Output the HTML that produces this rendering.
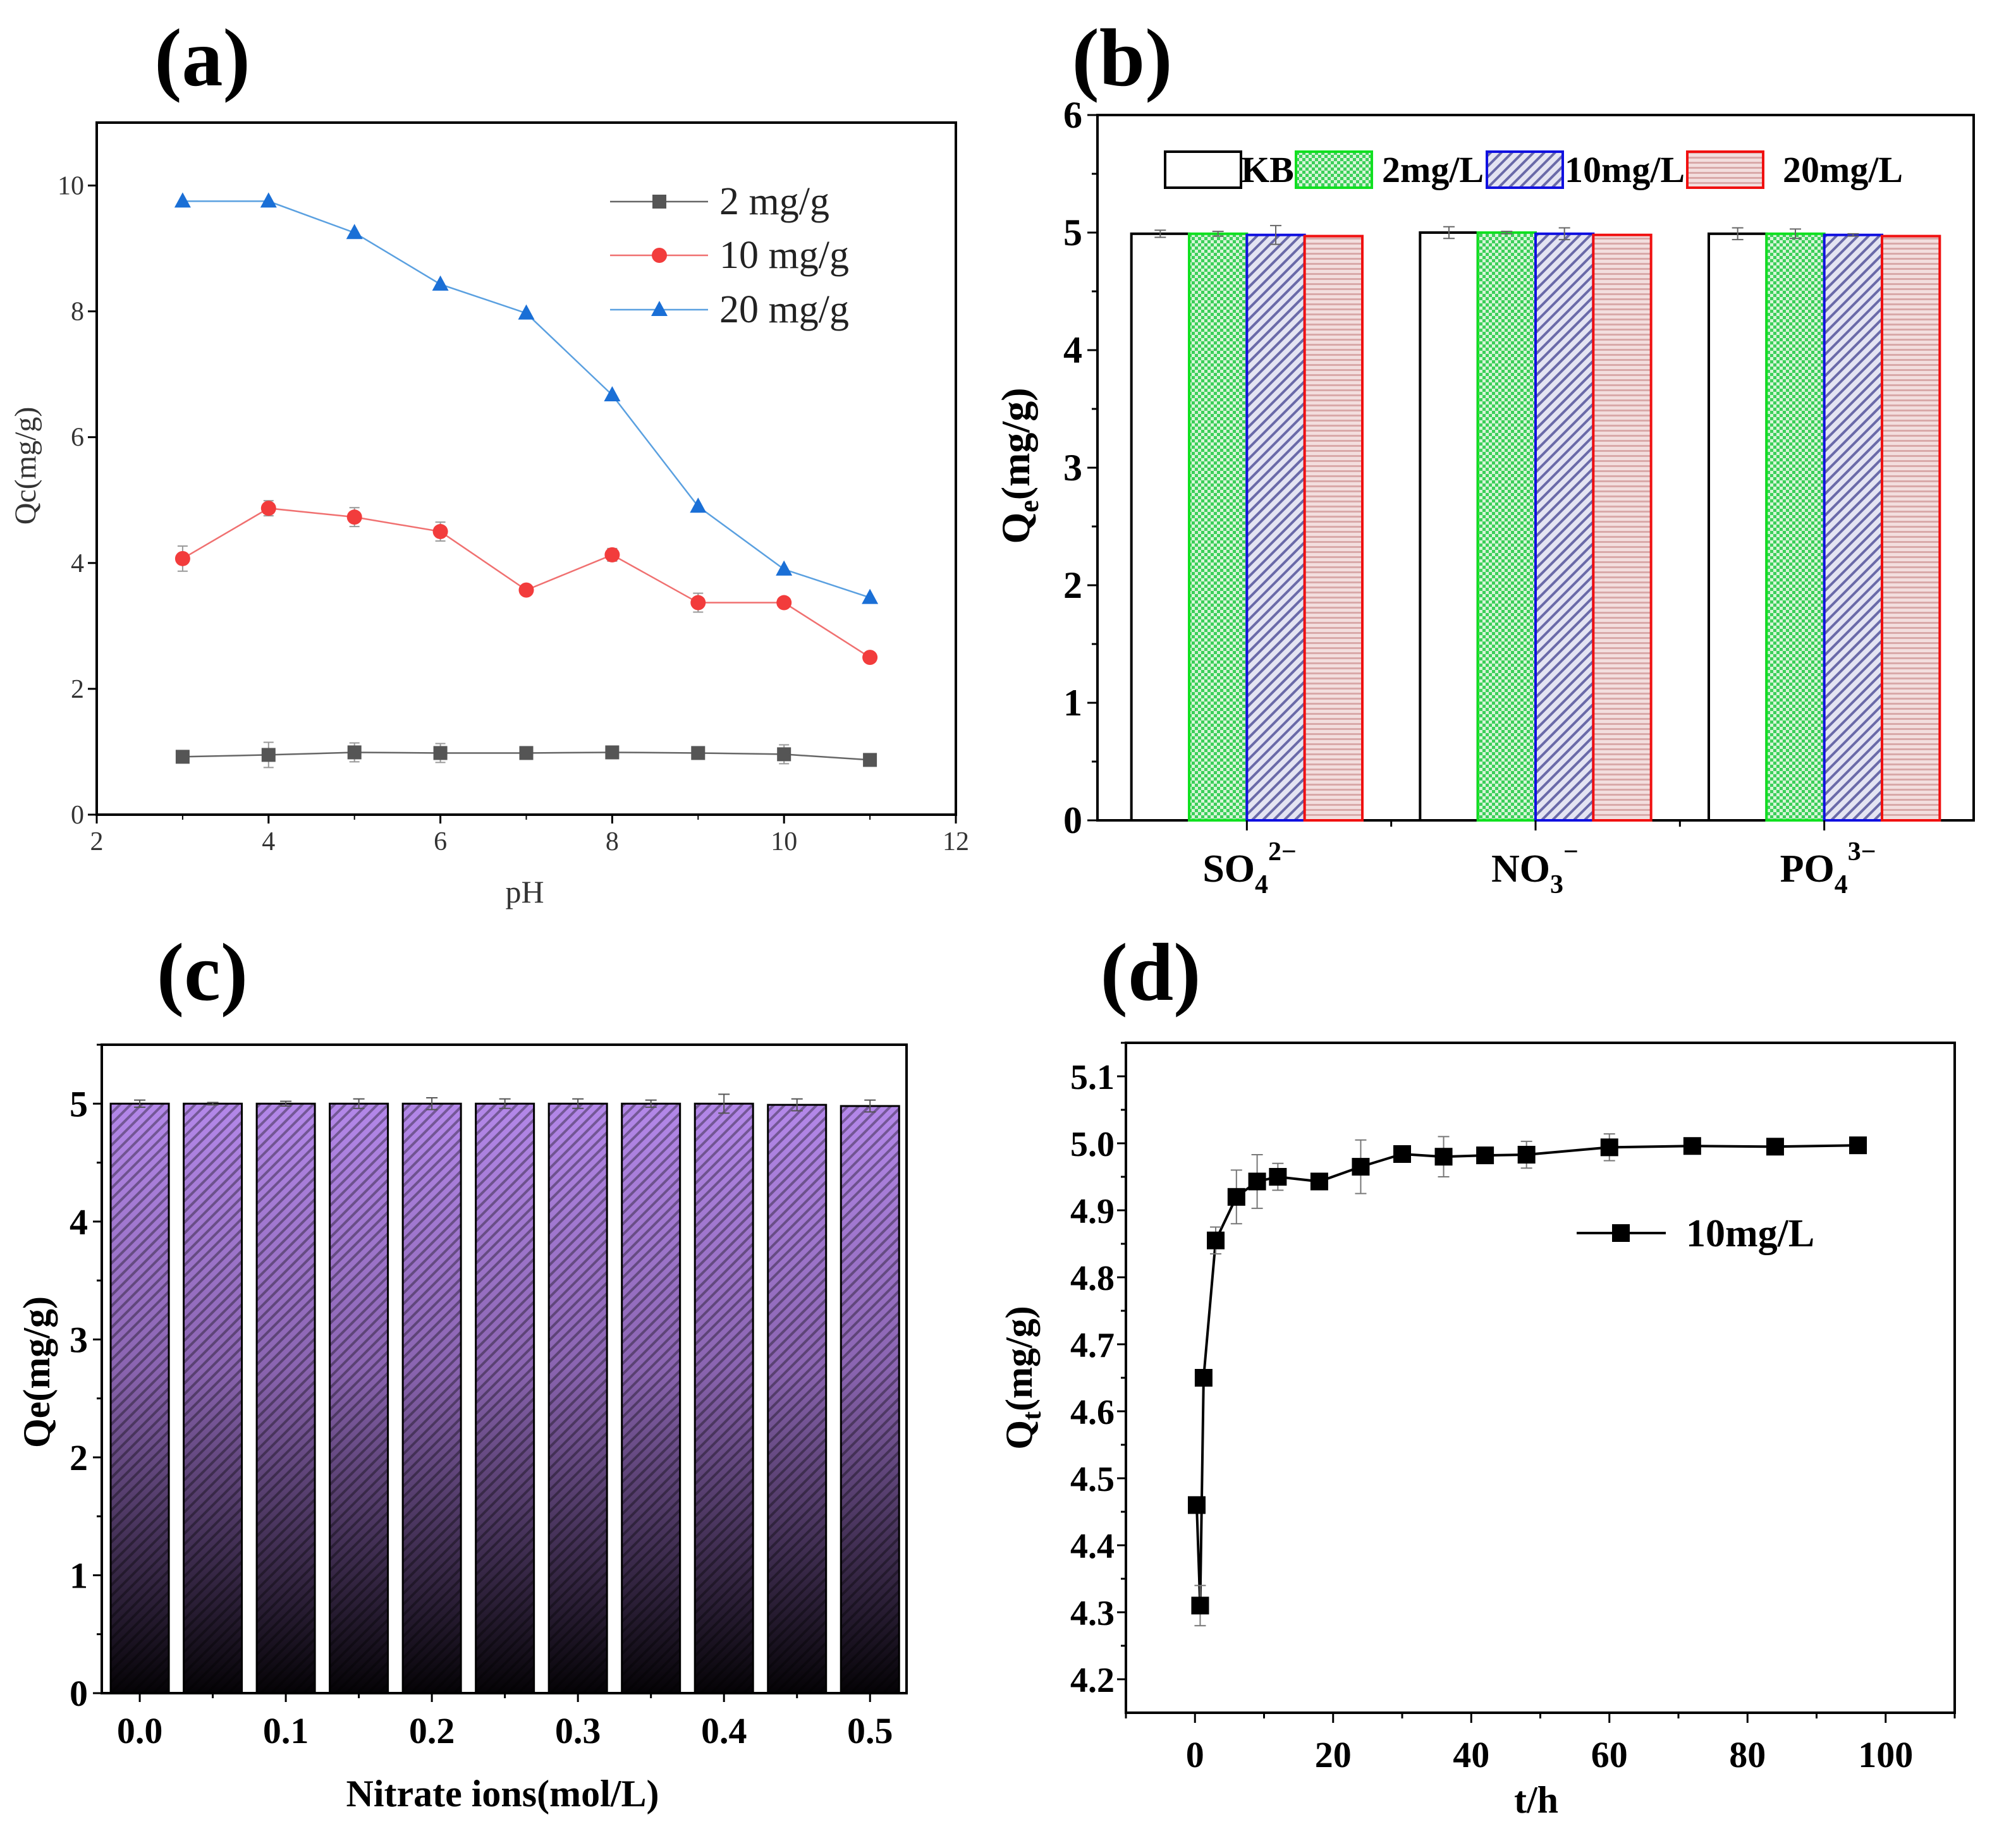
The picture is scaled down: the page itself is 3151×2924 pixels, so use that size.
<!DOCTYPE html>
<html><head><meta charset="utf-8">
<style>
html,body{margin:0;padding:0;background:#fff;}
svg{display:block;}
text{font-family:"Liberation Serif",serif;}
</style></head>
<body>
<svg id="fig" width="3151" height="2924" viewBox="0 0 3151 2924" xmlns="http://www.w3.org/2000/svg">
<defs>
<pattern id="pGreen" width="10" height="10" patternUnits="userSpaceOnUse">
<rect width="10" height="10" fill="#d8f5d8"/><rect width="5" height="5" fill="#3ccf5a"/><rect x="5" y="5" width="5" height="5" fill="#3ccf5a"/>
</pattern>
<pattern id="pBlue" width="12" height="12" patternUnits="userSpaceOnUse" patternTransform="rotate(45)">
<rect width="12" height="12" fill="#e4e4f2"/><rect width="4" height="12" fill="#6a6aa8"/>
</pattern>
<pattern id="pRed" width="8" height="8" patternUnits="userSpaceOnUse">
<rect width="8" height="8" fill="#f3dede"/><rect width="8" height="3" fill="#d9a9a9"/>
</pattern>
<linearGradient id="gPurple" x1="0" y1="0" x2="0" y2="1">
<stop offset="0" stop-color="#b488ea"/><stop offset="0.45" stop-color="#8a64b0"/><stop offset="1" stop-color="#050306"/>
</linearGradient>
<pattern id="pHatch" width="12" height="12" patternUnits="userSpaceOnUse" patternTransform="rotate(45)">
<rect width="4" height="12" fill="rgba(0,0,0,0.35)"/>
</pattern>
</defs>
<g id="root"></g>
</svg>
<script>
// ---- Panel (a) data ----
const aPH = [3,4,5,6,7,8,9,10,11];
const a2 = [0.92,0.95,0.99,0.98,0.98,0.99,0.98,0.96,0.87];
const a2Err = [0.08,0.2,0.15,0.15,0.08,0.1,0.08,0.15,0.05];
const a10 = [4.07,4.87,4.73,4.5,3.57,4.13,3.37,3.37,2.5];
const a10Err = [0.2,0.12,0.15,0.15,0.05,0.1,0.15,0.05,0.05];
const a20 = [9.75,9.75,9.25,8.43,7.97,6.67,4.9,3.9,3.45];
const aXTicks = [2,4,6,8,10,12];
const aYTicks = [0,2,4,6,8,10];
// ---- Panel (b) data ----
const bCats = ["SO4","NO3","PO4"];
const bKB = [4.99,5.0,4.99];
const bKBErr = [0.03,0.05,0.05];
const b2 = [4.99,5.0,4.99];
const b2Err = [0.02,0.01,0.04];
const b10 = [4.98,4.99,4.98];
const b10Err = [0.08,0.05,0.01];
const b20 = [4.97,4.98,4.97];
const bYTicks = [0,1,2,3,4,5,6];
// ---- Panel (c) data ----
const cConc = [0.0,0.05,0.1,0.15,0.2,0.25,0.3,0.35,0.4,0.45,0.5];
const cVals = [5.0,5.0,5.0,5.0,5.0,5.0,5.0,5.0,5.0,4.99,4.98];
const cErr = [0.03,0.01,0.02,0.04,0.05,0.04,0.04,0.03,0.08,0.05,0.05];
const cXTickLabels = ["0.0","0.1","0.2","0.3","0.4","0.5"];
const cYTicks = [0,1,2,3,4,5];
// ---- Panel (d) data ----
const dT = [0.25,0.75,1.25,3,6,9,12,18,24,30,36,42,48,60,72,84,96];
const dQ = [4.46,4.31,4.65,4.855,4.92,4.943,4.95,4.943,4.965,4.984,4.98,4.982,4.983,4.994,4.996,4.995,4.997];
const dErr = [0,0.03,0,0.02,0.04,0.04,0.02,0,0.04,0,0.03,0,0.02,0.02,0,0,0];
const dXTicks = [0,20,40,60,80,100];
const dYTicks = [4.2,4.3,4.4,4.5,4.6,4.7,4.8,4.9,5.0,5.1];

const NS = "http://www.w3.org/2000/svg";
const root = document.getElementById('root');
function el(tag, attrs, parent, txt){
  const e = document.createElementNS(NS, tag);
  for (const k in attrs) e.setAttribute(k, attrs[k]);
  if (txt !== undefined) e.textContent = txt;
  (parent || root).appendChild(e);
  return e;
}
function lin(d0,d1,r0,r1){ return v => r0 + (v-d0)/(d1-d0)*(r1-r0); }
function grp(name){ const g = el('g',{});   return g; }
function label(g, x, y, s, size, weight, anchor, name, fill){
  const t = el('text',{x:x,y:y,'font-size':size,'font-weight':weight,'text-anchor':anchor||'middle',fill:fill||'#000'}, g, s);
  
  
  return t;
}

// ================= PANEL A =================
(function(){
  const g = grp('panel-a');
  const L=153,R=1512,T=194,B=1289;
  const x = lin(2,12,L,R), y = lin(0,11,B,T);
  label(g, 320, 135, "(a)", 130, 'bold', 'middle', 'panel-a-title');
  const box = el('rect',{x:L,y:T,width:R-L,height:B-T,fill:'none',stroke:'#000','stroke-width':4},g);
   
  aXTicks.forEach(v=>{ el('line',{x1:x(v),x2:x(v),y1:B,y2:B+14,stroke:'#000','stroke-width':3},g);
    label(g, x(v), B+56, String(v), 42, 'normal','middle','x-tick-label','#333'); });
  aPH.forEach(v=>{ el('line',{x1:x(v),x2:x(v),y1:B,y2:B+8,stroke:'#000','stroke-width':2},g); });
  aYTicks.forEach(v=>{ el('line',{x1:L-14,x2:L,y1:y(v),y2:y(v),stroke:'#000','stroke-width':3},g);
    label(g, L-20, y(v)+14, String(v), 42,'normal','end','y-tick-label','#333'); });
  label(g, 830, 1428, "pH", 50,'normal','middle','x-axis-title','#333');
  const yt = label(g, 0,0,"Qc(mg/g)",48,'normal','middle','y-axis-title','#333');
  yt.setAttribute('transform','translate(56,737) rotate(-90)');
  const series=[{v:a2,e:a2Err,c:'#555',lc:'#666',m:'sq',n:'series-2mg'},{v:a10,e:a10Err,c:'#f23c3c',lc:'#f07070',m:'ci',n:'series-10mg'},{v:a20,e:null,c:'#1a6fd6',lc:'#5aa0e0',m:'tri',n:'series-20mg'}];
  series.forEach(s=>{
    const sg = grp(s.n); g.appendChild(sg);
    const pts = aPH.map((p,i)=>x(p)+','+y(s.v[i])).join(' ');
    el('polyline',{points:pts,fill:'none',stroke:s.lc,'stroke-width':2.5},sg);
    aPH.forEach((p,i)=>{
      const cx=x(p), cy=y(s.v[i]);
      if (s.e){ el('line',{x1:cx,x2:cx,y1:y(s.v[i]+s.e[i]),y2:y(s.v[i]-s.e[i]),stroke:'#999','stroke-width':2},sg);
        el('line',{x1:cx-8,x2:cx+8,y1:y(s.v[i]+s.e[i]),y2:y(s.v[i]+s.e[i]),stroke:'#999','stroke-width':2},sg);
        el('line',{x1:cx-8,x2:cx+8,y1:y(s.v[i]-s.e[i]),y2:y(s.v[i]-s.e[i]),stroke:'#999','stroke-width':2},sg); }
      let m;
      if (s.m==='sq') m = el('rect',{x:cx-11,y:cy-11,width:22,height:22,fill:s.c},sg);
      else if (s.m==='ci') m = el('circle',{cx:cx,cy:cy,r:12,fill:s.c},sg);
      else m = el('polygon',{points:(cx)+','+(cy-14)+' '+(cx-13)+','+(cy+10)+' '+(cx+13)+','+(cy+10),fill:s.c},sg);
       
    });
  });
  const lg = grp('legend-a'); g.appendChild(lg);
  const leg=[["2 mg/g",'#555','#666','sq',319],["10 mg/g",'#f23c3c','#f07070','ci',404],["20 mg/g",'#1a6fd6','#5aa0e0','tri',490]];
  leg.forEach(l=>{
    const e = grp('legend-entry'); lg.appendChild(e);
    el('line',{x1:965,x2:1120,y1:l[4],y2:l[4],stroke:l[2],'stroke-width':2.5},e);
    const cx=1043, cy=l[4];
    if(l[3]==='sq') el('rect',{x:cx-11,y:cy-11,width:22,height:22,fill:l[1]},e);
    else if(l[3]==='ci') el('circle',{cx:cx,cy:cy,r:12,fill:l[1]},e);
    else el('polygon',{points:cx+','+(cy-14)+' '+(cx-13)+','+(cy+10)+' '+(cx+13)+','+(cy+10),fill:l[1]},e);
    label(e, 1138, cy+20, l[0], 62,'normal','start','legend-label','#222');
  });
})();

// ================= PANEL B =================
(function(){
  const g = grp('panel-b');
  const L=1736,R=3122,T=182,B=1298;
  const x = lin(-0.5,2.5,L+8,R-8), y = lin(0,6,B,T);
  label(g, 1775, 135, "(b)", 130,'bold','middle','panel-b-title');
  const fr = el('rect',{x:L,y:T,width:R-L,height:B-T,fill:'none',stroke:'#000','stroke-width':4},g);
   
  const series=[{v:bKB,e:bKBErr,f:'#fff',s:'#000',n:'bar-kb'},{v:b2,e:b2Err,f:'url(#pGreen)',s:'#10e020',n:'bar-2mg'},{v:b10,e:b10Err,f:'url(#pBlue)',s:'#1010e0',n:'bar-10mg'},{v:b20,e:null,f:'url(#pRed)',s:'#f01010',n:'bar-20mg'}];
  const bw = 0.2;
  bCats.forEach((c,ci)=>{
    series.forEach((s,si)=>{
      const x0 = x(ci - 0.4 + si*bw), x1 = x(ci - 0.4 + (si+1)*bw);
      const r = el('rect',{x:x0,y:y(s.v[ci]),width:x1-x0,height:B-y(s.v[ci]),fill:s.f,stroke:s.s,'stroke-width':4},g);
       
      if (s.e){ const cx=(x0+x1)/2, t=y(s.v[ci]+s.e[ci]), b=y(s.v[ci]-s.e[ci]);
        el('line',{x1:cx,x2:cx,y1:t,y2:b,stroke:'#666','stroke-width':2},g);
        el('line',{x1:cx-9,x2:cx+9,y1:t,y2:t,stroke:'#666','stroke-width':2},g);
        el('line',{x1:cx-9,x2:cx+9,y1:b,y2:b,stroke:'#666','stroke-width':2},g); }
    });
    el('line',{x1:x(ci),x2:x(ci),y1:B,y2:B+16,stroke:'#000','stroke-width':3},g);
    if (ci<2) el('line',{x1:x(ci+0.5),x2:x(ci+0.5),y1:B,y2:B+10,stroke:'#000','stroke-width':3},g);
  });
  bYTicks.forEach(v=>{ el('line',{x1:L-16,x2:L,y1:y(v),y2:y(v),stroke:'#000','stroke-width':3},g);
    label(g, L-24, y(v)+20, String(v), 60,'bold','end','y-tick-label');
    if (v<6) el('line',{x1:L-9,x2:L,y1:y(v+0.5),y2:y(v+0.5),stroke:'#000','stroke-width':3},g); });
  // category labels with sub/superscripts
  const xl = [["SO","4","2−"],["NO","3","−"],["PO","4","3−"]];
  xl.forEach((c,ci)=>{
    const t = el('text',{x:x(ci)-70,y:1395,'font-size':62,'font-weight':'bold'},g);
     
    el('tspan',{},t,c[0]);
    el('tspan',{dy:18,'font-size':42},t,c[1]);
    el('tspan',{dy:-52,'font-size':42},t,c[2]);
  });
  const yt = el('text',{'font-size':64,'font-weight':'bold','text-anchor':'middle',transform:'translate(1628,737) rotate(-90)'},g);
   
  el('tspan',{},yt,'Q'); el('tspan',{dy:14,'font-size':44},yt,'e'); el('tspan',{dy:-14},yt,'(mg/g)');
  const lg = grp('legend-b'); g.appendChild(lg);
  const leg=[[1843,'#fff','#000','KB',1963],[2050,'url(#pGreen)','#10e020','2mg/L',2186],[2352,'url(#pBlue)','#1010e0','10mg/L',2475],[2669,'url(#pRed)','#f01010','20mg/L',2820]];
  leg.forEach(l=>{
    const e = grp('legend-entry'); lg.appendChild(e);
    el('rect',{x:l[0],y:240,width:120,height:57,fill:l[1],stroke:l[2],'stroke-width':4},e);
    label(e, l[4], 288, l[3], 58,'bold','start','legend-label');
  });
})();

// ================= PANEL C =================
(function(){
  const g = grp('panel-c');
  const L=161,R=1434,T=1653,B=2679;
  const x = lin(-0.52,10.5,L,R), y = lin(0,5.5,B,T);
  label(g, 320, 1582, "(c)", 130,'bold','middle','panel-c-title');
  cConc.forEach((c,i)=>{
    const x0=x(i)-46, w=92, yt=y(cVals[i]);
    const r = el('rect',{x:x0,y:yt,width:w,height:B-yt,fill:'url(#gPurple)',stroke:'#000','stroke-width':3},g);
     
    el('rect',{x:x0,y:yt,width:w,height:B-yt,fill:'url(#pHatch)'},g);
    const t=y(cVals[i]+cErr[i]), b=y(cVals[i]-cErr[i]), cx=x(i);
    el('line',{x1:cx,x2:cx,y1:t,y2:b,stroke:'#555','stroke-width':2},g);
    el('line',{x1:cx-9,x2:cx+9,y1:t,y2:t,stroke:'#555','stroke-width':2},g);
    el('line',{x1:cx-9,x2:cx+9,y1:b,y2:b,stroke:'#555','stroke-width':2},g);
    el('line',{x1:cx,x2:cx,y1:B,y2:B+(i%2===0?14:8),stroke:'#000','stroke-width':3},g);
  });
  const fr = el('rect',{x:L,y:T,width:R-L,height:B-T,fill:'none',stroke:'#000','stroke-width':4},g);
   
  cXTickLabels.forEach((s,i)=>{ label(g, x(i*2), 2758, s, 58,'bold','middle','x-tick-label'); });
  cYTicks.forEach(v=>{ el('line',{x1:L-14,x2:L,y1:y(v),y2:y(v),stroke:'#000','stroke-width':3},g);
    label(g, L-22, y(v)+20, String(v), 58,'bold','end','y-tick-label');
    el('line',{x1:L-8,x2:L,y1:y(v+0.5),y2:y(v+0.5),stroke:'#000','stroke-width':3},g); });
  label(g, 795, 2858, "Nitrate ions(mol/L)", 60,'bold','middle','x-axis-title');
  const yt = label(g,0,0,"Qe(mg/g)",60,'bold','middle','y-axis-title');
  yt.setAttribute('transform','translate(78,2171) rotate(-90)');
})();

// ================= PANEL D =================
(function(){
  const g = grp('panel-d');
  const L=1781,R=3092,T=1650,B=2710;
  const x = lin(-10,110,L,R), y = lin(4.15,5.15,B,T);
  label(g, 1820, 1582, "(d)", 130,'bold','middle','panel-d-title');
  const fr = el('rect',{x:L,y:T,width:R-L,height:B-T,fill:'none',stroke:'#000','stroke-width':4},g);
   
  dXTicks.forEach(v=>{ el('line',{x1:x(v),x2:x(v),y1:B,y2:B+16,stroke:'#000','stroke-width':3},g);
    label(g, x(v), 2796, String(v), 58,'bold','middle','x-tick-label');
    el('line',{x1:x(v-10),x2:x(v-10),y1:B,y2:B+9,stroke:'#000','stroke-width':3},g); });
  el('line',{x1:x(110),x2:x(110),y1:B,y2:B+9,stroke:'#000','stroke-width':3},g);
  dYTicks.forEach(v=>{ el('line',{x1:L-14,x2:L,y1:y(v),y2:y(v),stroke:'#000','stroke-width':3},g);
    label(g, L-18, y(v)+20, v.toFixed(1), 56,'bold','end','y-tick-label');
    el('line',{x1:L-8,x2:L,y1:y(v+0.05),y2:y(v+0.05),stroke:'#000','stroke-width':3},g); });
  const sg = grp('series-10mgL'); g.appendChild(sg);
  el('polyline',{points:dT.map((t,i)=>x(t)+','+y(dQ[i])).join(' '),fill:'none',stroke:'#000','stroke-width':4},sg);
  dT.forEach((t,i)=>{
    const cx=x(t), cy=y(dQ[i]);
    if (dErr[i]>0){ const a=y(dQ[i]+dErr[i]), b=y(dQ[i]-dErr[i]);
      el('line',{x1:cx,x2:cx,y1:a,y2:b,stroke:'#777','stroke-width':2},sg);
      el('line',{x1:cx-9,x2:cx+9,y1:a,y2:a,stroke:'#777','stroke-width':2},sg);
      el('line',{x1:cx-9,x2:cx+9,y1:b,y2:b,stroke:'#777','stroke-width':2},sg); }
    const m = el('rect',{x:cx-14,y:cy-14,width:28,height:28,fill:'#000'},sg);
     
  });
  const lg = grp('legend-d'); g.appendChild(lg);
  el('line',{x1:2494,x2:2635,y1:1951,y2:1951,stroke:'#000','stroke-width':4},lg);
  el('rect',{x:2550,y:1937,width:28,height:28,fill:'#000'},lg);
  label(lg, 2667, 1972, "10mg/L", 62,'bold','start','legend-label');
  label(g, 2430, 2868, "t/h", 60,'bold','middle','x-axis-title');
  const yt = el('text',{'font-size':60,'font-weight':'bold','text-anchor':'middle',transform:'translate(1632,2180) rotate(-90)'},g);
   
  el('tspan',{},yt,'Q'); el('tspan',{dy:14,'font-size':42},yt,'t'); el('tspan',{dy:-14},yt,'(mg/g)');
})();
</script>
</body></html>
